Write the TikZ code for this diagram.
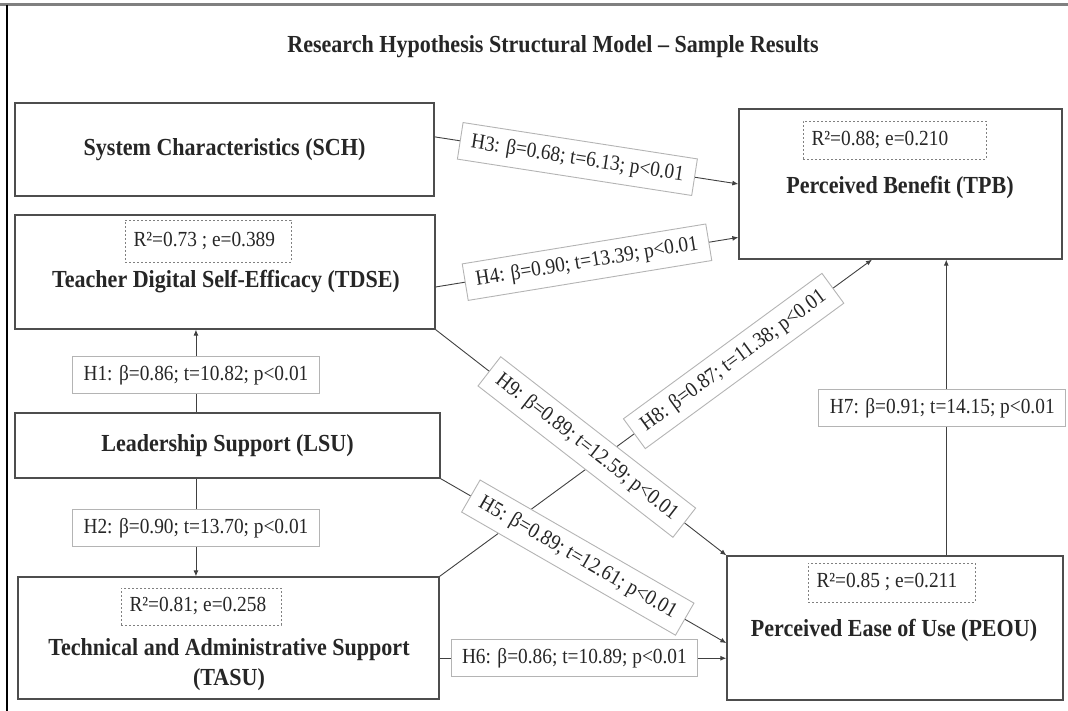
\documentclass[tikz,border=0pt]{standalone}
\usepackage{fontspec}
\setmainfont[FakeStretch=0.9]{Liberation Serif}
\usetikzlibrary{arrows.meta,calc}
\definecolor{boxgray}{HTML}{4D4D4D}
\definecolor{lblgray}{HTML}{B4B4B4}
\definecolor{inkgray}{HTML}{262626}

\begin{document}
\begin{tikzpicture}[x=1pt,y=-1pt,
  box/.style={draw=boxgray, line width=1.3pt, fill=white, inner sep=0pt,
    font=\fontsize{24.5}{30}\selectfont\bfseries, text=inkgray, align=center},
  nametext/.style={font=\fontsize{24.5}{30}\selectfont\bfseries, text=inkgray, align=center, inner sep=0pt},
  rsq/.style={draw=gray, dashed, dash pattern=on 2pt off 2pt, line width=0.8pt,
    inner xsep=8.5pt, inner ysep=0pt,
    font=\fontsize{21.5}{26}\selectfont, text=inkgray},
  conn/.style={draw=black!75, line width=0.9pt, -{Latex[length=6pt,width=5pt]}},
  lbl/.style={draw=lblgray, line width=0.9pt, fill=white, font=\fontsize{21.5}{26}\selectfont,
    text=inkgray, inner xsep=11pt, inner ysep=0pt, minimum height=37pt,
    text height=15pt, text depth=4pt}
]
\useasboundingbox (0,0) rectangle (1068,711);

% frame edges
\draw[gray, line width=3pt] (0,5) -- (1068,5);
\draw[black, line width=1.2pt] (7,5) -- (7,711);

% title
\node[nametext] (title) at (553,47) {Research Hypothesis Structural Model – Sample Results};

% construct boxes
\node[box, minimum width=419pt, minimum height=93pt] (sch) at (224.5,149.5) {System Characteristics (SCH)};
\node[box, minimum width=420pt, minimum height=114pt] (tdse) at (225,272) {};
\node[box, minimum width=425pt, minimum height=65pt] (lsu) at (227.5,445.5) {Leadership Support (LSU)};
\node[box, minimum width=421pt, minimum height=122pt] (tasu) at (228.5,638) {};
\node[box, minimum width=323pt, minimum height=150pt] (tpb) at (900.5,184) {};
\node[box, minimum width=336pt, minimum height=144pt] (peou) at (895,628) {};

% names and explained variance
\node[nametext] (tdsename) at (226,282) {Teacher Digital Self-Efficacy (TDSE)};
\node[rsq, minimum height=42pt] (tdser) at (208,241) {\makebox[149pt][l]{R²=0.73 ; e=0.389}};

\node[nametext] (tasuname) at (229,665) {Technical and Administrative Support\\(TASU)};
\node[rsq, minimum height=37pt] (tasur) at (201,606.5) {\makebox[143pt][l]{R²=0.81; e=0.258}};

\node[nametext] (tpbname) at (900,187) {Perceived Benefit (TPB)};
\node[rsq, minimum height=38pt] (tpbr) at (894.5,140) {\makebox[166pt][l]{R²=0.88; e=0.210}};

\node[nametext] (peouname) at (894,630) {Perceived Ease of Use (PEOU)};
\node[rsq, minimum height=39pt] (peour) at (891.5,582.5) {\makebox[150pt][l]{R²=0.85 ; e=0.211}};

% attachment points
\coordinate (h1s) at ($(lsu.north west)!0.426!(lsu.north east)$);
\coordinate (h2s) at ($(lsu.south west)!0.426!(lsu.south east)$);
\coordinate (h3s) at ($(sch.north east)!0.366!(sch.south east)$);
\coordinate (h4s) at ($(tdse.north east)!0.63!(tdse.south east)$);
\coordinate (h4e) at ($(tpb.north west)!0.853!(tpb.south west)$);
\coordinate (h5e) at ($(peou.north west)!0.604!(peou.south west)$);
\coordinate (h6s) at ($(tasu.north east)!0.664!(tasu.south east)$);
\coordinate (h7s) at ($(peou.north west)!0.652!(peou.north east)$);
\coordinate (h8e) at ($(tpb.south west)!0.412!(tpb.south east)$);

% paths
\draw[conn] (tasu.north east) -- (h8e)
  node[lbl, sloped, pos=0.68] (h8) {H8: β=0.87; t=11.38; p<0.01};
\draw[conn] (h1s) -- (h1s |- tdse.south)
  node[lbl, pos=0.45] (h1) {H1: β=0.86; t=10.82; p<0.01};
\draw[conn] (h2s) -- (h2s |- tasu.north)
  node[lbl, pos=0.5] (h2) {H2: β=0.90; t=13.70; p<0.01};
\draw[conn] (h3s) -- (tpb.west)
  node[lbl, sloped, pos=0.47] (h3) {H3: β=0.68; t=6.13; p<0.01};
\draw[conn] (h4s) -- (h4e)
  node[lbl, sloped, pos=0.5] (h4) {H4: β=0.90; t=13.39; p<0.01};
\draw[conn] (lsu.south east) -- (h5e)
  node[lbl, sloped, pos=0.48] (h5) {H5: β=0.89; t=12.61; p<0.01};
\draw[conn] (h6s) -- (h6s -| peou.west)
  node[lbl, pos=0.47] (h6) {H6: β=0.86; t=10.89; p<0.01};
\draw[conn] (h7s) -- (h7s |- tpb.south)
  node[lbl, pos=0.5, xshift=-4pt] (h7) {H7: β=0.91; t=14.15; p<0.01};
\draw[conn] (tdse.south east) -- (peou.north west)
  node[lbl, sloped, pos=0.52] (h9) {H9: β=0.89; t=12.59; p<0.01};
\end{tikzpicture}
\end{document}
